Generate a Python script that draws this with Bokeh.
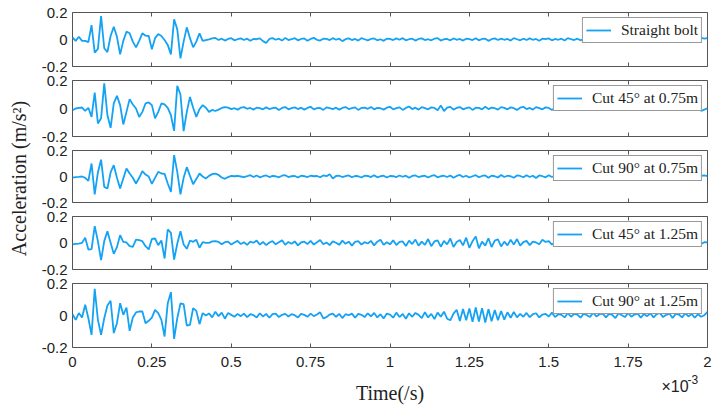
import math
from bokeh.plotting import figure
from bokeh.layouts import column, row
from bokeh.models import FixedTicker, CustomJSTickFormatter, LinearAxis, Range1d, Label
from bokeh.embed import file_html
from bokeh.resources import INLINE

# sample grid (units of 1e-3 s), 0.01 ms spacing
time_ms = [round(0.01 * i, 2) for i in range(201)]

straight_bolt = [
    0.016, -0.010, 0.020, -0.010, -0.010, -0.020, 0.107, -0.097, -0.070, 0.174,
    -0.065, -0.093, 0.026, 0.095, 0.020, -0.110, -0.010, 0.058, 0.046, -0.016,
    -0.058, -0.010, 0.046, 0.028, 0.026, -0.073, 0.010, 0.040, 0.026, -0.004,
    -0.040, -0.110, 0.150, 0.075, -0.140, -0.016, 0.090, 0.010, -0.058, -0.016,
    0.046, -0.010, -0.004, 0.001,
    0.008, 0.012, -0.004, 0.006, -0.008, 0.004, 0.010, -0.006, 0.002, 0.008,
    -0.004, 0.006, -0.010, 0.004, 0.002, 0.008, -0.012, -0.026, 0.004, 0.010,
    -0.002, 0.006, -0.008, 0.012, -0.004, 0.002, 0.010, -0.006, 0.004, 0.008,
    -0.010, 0.004, 0.012, -0.002, -0.008, 0.006, 0.004, -0.004, 0.010, -0.002,
    0.006, -0.012, 0.002, 0.008, -0.004, 0.004, -0.008, 0.010, 0.002, -0.006,
    0.004, 0.008, -0.006, 0.002, -0.010, 0.006, 0.004, -0.004, 0.008, -0.002,
    0.010, -0.006, 0.002, 0.006, -0.008, 0.004, 0.008, -0.004, 0.002, -0.006,
    0.006, 0.010, -0.008, 0.002, 0.004, -0.006, 0.008, -0.002, 0.004, -0.008,
    0.006, 0.002, -0.004, 0.010, -0.006, 0.004, 0.006, -0.010, 0.002, 0.008,
    -0.004, 0.006, -0.002, 0.004, -0.008, 0.010, 0.002, -0.006, 0.006, -0.004,
    0.008, -0.002, 0.004, -0.010, 0.006, 0.002, 0.008, -0.006, 0.004, -0.002,
    0.006, -0.008, 0.010, 0.002, -0.004, 0.006, -0.006, 0.004, 0.008, -0.010,
    0.004, 0.006, -0.004, 0.002, 0.010, -0.006, 0.004, -0.002, 0.008, -0.008,
    0.006, 0.002, -0.006, 0.010, -0.004, 0.004, 0.006, -0.008, 0.002, 0.008,
    -0.004, 0.006, -0.010, 0.004, 0.008, -0.002, 0.006, -0.006, 0.004, 0.010,
    -0.004, 0.002, 0.008, 0.014, 0.012, 0.006, 0.010,
]

cut45_075 = [
    -0.012, 0.000, 0.005, 0.007, -0.017, 0.005, -0.060, 0.114, -0.107, -0.070,
    0.180, -0.048, -0.138, 0.036, 0.090, 0.024, -0.114, -0.024, 0.067, 0.029,
    0.000, -0.060, -0.024, 0.036, 0.043, 0.024, -0.070, -0.024, 0.036, 0.029,
    0.005, -0.048, -0.160, 0.162, 0.100, -0.162, -0.024, 0.083, 0.005, -0.060,
    -0.005, 0.024, 0.005, -0.024,
    -0.010, -0.018, -0.008, 0.004, 0.010, 0.006, -0.004, 0.002, -0.008, 0.006,
    0.010, -0.002, 0.004, -0.008, 0.006, 0.002, -0.006, 0.008, -0.004, 0.002,
    0.006, -0.010, 0.004, 0.010, -0.006, 0.002, 0.008, -0.004, 0.006, -0.008,
    0.004, 0.012, -0.006, 0.002, 0.004, -0.010, 0.008, 0.002, -0.004, 0.006,
    -0.008, 0.004, 0.010, -0.004, 0.002, 0.008, -0.010, 0.004, 0.006, -0.002,
    0.010, -0.006, 0.004, 0.002, -0.008, 0.006, 0.012, -0.006, 0.002, 0.008,
    -0.010, 0.004, 0.014, -0.004, 0.006, -0.008, 0.010, 0.002, -0.006, 0.008,
    0.004, -0.012, 0.022, -0.018, 0.006, 0.012, -0.008, 0.004, 0.010, -0.006,
    0.002, 0.008, -0.010, 0.006, 0.004, -0.006, 0.012, -0.004, 0.006, 0.002,
    -0.008, 0.010, 0.004, -0.006, 0.008, 0.002, -0.010, 0.006, 0.012, -0.004,
    0.004, -0.008, 0.010, 0.002, -0.006, 0.008, 0.004, -0.010, 0.006, 0.002,
    0.012, -0.006, 0.004, 0.008, -0.008, 0.006, 0.002, -0.006, 0.010, 0.004,
    -0.008, 0.012, 0.002, -0.006, 0.008, 0.004, -0.012, 0.010, 0.002, -0.004,
    0.008, -0.010, 0.014, -0.004, 0.006, 0.002, -0.012, 0.010, 0.004, -0.008,
    0.012, -0.006, 0.016, -0.010, 0.004, 0.010, -0.014, 0.008, 0.002, 0.012,
    -0.012, 0.006, 0.028, 0.040, -0.018, -0.008, 0.002,
]

cut90_075 = [
    -0.008, -0.005, -0.003, 0.000, -0.010, -0.033, 0.100, -0.138, 0.031, 0.130,
    -0.080, -0.092, 0.031, 0.087, -0.010, -0.092, -0.015, 0.062, 0.023, -0.010,
    -0.054, -0.010, 0.041, 0.015, 0.000, -0.056, -0.010, 0.036, 0.023, 0.020,
    -0.054, -0.118, 0.164, 0.036, -0.138, -0.010, 0.072, 0.005, -0.059, -0.020,
    0.023, 0.000, -0.015, 0.005,
    0.018, 0.022, 0.012, -0.008, -0.018, -0.004, 0.004, 0.002, 0.004, 0.000,
    -0.004, 0.002, 0.010, -0.004, 0.008, -0.006, 0.002, 0.008, -0.004, 0.004,
    0.002, -0.006, 0.006, 0.010, -0.004, 0.002, 0.004, -0.008, 0.006, 0.002,
    -0.004, 0.006, 0.002, 0.004, -0.006, 0.008, 0.002, 0.018, -0.016, 0.004,
    0.006, -0.004, 0.002, 0.008, -0.006, 0.004, 0.002, -0.008, 0.006, 0.004,
    -0.004, 0.010, -0.006, 0.002, 0.006, -0.008, 0.004, 0.002, -0.004, 0.008,
    -0.002, 0.006, -0.010, 0.004, 0.008, -0.004, 0.002, 0.006, -0.008, 0.004,
    0.010, -0.006, 0.002, 0.006, -0.004, 0.008, -0.010, 0.004, 0.012, -0.004,
    0.006, -0.008, 0.002, 0.010, -0.006, 0.004, 0.008, -0.010, 0.006, 0.002,
    -0.008, 0.012, -0.004, 0.006, 0.002, -0.010, 0.008, 0.004, -0.006, 0.010,
    -0.004, 0.006, -0.012, 0.008, 0.002, -0.006, 0.010, -0.004, 0.006, -0.010,
    0.004, 0.012, -0.006, 0.002, 0.008, -0.010, 0.006, -0.004, 0.010, -0.012,
    0.004, 0.008, -0.008, 0.012, -0.004, 0.006, -0.010, 0.004, 0.010, -0.006,
    0.008, -0.012, 0.006, 0.002, -0.008, 0.010, -0.004, 0.006, -0.010, 0.012,
    -0.004, 0.008, -0.010, 0.006, 0.002, -0.008, 0.012, -0.006, 0.004, 0.008,
    -0.008, 0.006, 0.010, -0.006, 0.004, 0.008, 0.002,
]

cut45_125 = [
    -0.011, -0.006, -0.004, 0.001, 0.039, -0.049, -0.047, 0.127, 0.014, -0.130,
    0.014, 0.089, 0.001, -0.082, -0.031, 0.059, 0.009, 0.004, -0.024, -0.029,
    0.026, 0.021, 0.014, -0.024, -0.049, 0.031, 0.034, -0.016, 0.019, -0.117,
    0.102, 0.077, -0.125, -0.006, 0.089, -0.011, -0.044, 0.019, 0.009, 0.024,
    -0.036, 0.006, 0.001, 0.001,
    0.012, 0.014, 0.008, -0.010, 0.006, 0.010, -0.012, 0.004, 0.016, -0.008,
    0.006, -0.014, 0.010, 0.002, 0.018, -0.012, 0.008, -0.016, 0.004, 0.014,
    -0.010, 0.006, 0.020, -0.014, 0.008, -0.006, 0.012, -0.018, 0.004, 0.010,
    -0.008, 0.016, -0.012, 0.006, 0.022, -0.010, 0.004, -0.016, 0.012, 0.002,
    -0.014, 0.018, -0.006, 0.010, -0.020, 0.008, 0.014, -0.012, 0.006, -0.004,
    0.016, -0.018, 0.010, 0.024, -0.014, 0.006, -0.010, 0.020, -0.016, 0.008,
    0.012, -0.022, 0.018, -0.008, 0.026, -0.020, 0.010, -0.014, 0.030, -0.024,
    0.012, 0.020, -0.028, 0.016, -0.010, 0.034, -0.030, 0.008, 0.022, -0.018,
    0.040, -0.036, 0.014, 0.050, -0.040, 0.010, -0.020, 0.036, -0.030, 0.018,
    0.028, -0.026, 0.010, -0.018, 0.024, -0.012, 0.030, -0.020, 0.006, 0.016,
    -0.016, 0.010, 0.004, -0.010, 0.024, 0.008, 0.014, -0.012, 0.006, 0.010,
    -0.014, 0.012, 0.018, -0.010, 0.004, 0.016, -0.012, 0.008, -0.006, 0.014,
    0.010, -0.016, 0.012, 0.004, -0.008, 0.016, -0.012, 0.006, 0.010, -0.010,
    0.014, 0.004, -0.014, 0.010, 0.018, -0.010, 0.006, -0.016, 0.012, 0.004,
    -0.008, 0.016, -0.012, 0.010, 0.004, -0.014, 0.018, -0.006, 0.010, -0.016,
    0.012, 0.006, -0.010, 0.014, -0.008, 0.006, 0.004,
]

cut90_125 = [
    0.008, -0.027, 0.015, -0.013, 0.067, -0.017, -0.121, 0.167, -0.027, -0.121,
    -0.017, 0.062, 0.092, -0.110, -0.048, 0.077, 0.004, 0.050, -0.096, -0.013,
    0.019, 0.025, 0.025, -0.048, -0.033, -0.013, 0.035, 0.015, -0.027, -0.131,
    0.077, 0.146, -0.146, -0.017, 0.075, 0.071, -0.063, -0.058, 0.046, 0.029,
    -0.054, 0.015, 0.000, 0.013,
    -0.012, 0.024, -0.004, 0.018, -0.020, 0.016, 0.004, -0.008, 0.010, -0.004,
    0.012, -0.010, 0.008, 0.002, -0.012, 0.014, -0.006, 0.010, -0.014, 0.008,
    0.012, -0.010, 0.004, 0.010, -0.006, 0.008, 0.002, -0.012, 0.010, 0.004,
    -0.008, 0.012, -0.004, 0.006, 0.020, -0.018, -0.010, 0.006, 0.012, -0.008,
    0.010, -0.016, 0.008, 0.002, 0.012, -0.014, 0.010, 0.004, -0.010, 0.014,
    -0.006, 0.016, -0.012, 0.008, -0.018, 0.012, 0.006, -0.014, 0.018, -0.010,
    0.010, -0.020, 0.014, -0.008, 0.016, 0.004, -0.016, 0.020, -0.012, 0.010,
    -0.022, 0.018, -0.008, 0.024, -0.020, -0.030, 0.012, 0.036, -0.034, 0.040,
    -0.030, 0.044, -0.040, 0.050, -0.038, 0.046, -0.044, 0.040, -0.036, 0.034,
    -0.030, 0.028, -0.026, 0.020, -0.014, 0.022, -0.012, 0.010, -0.008, 0.016,
    -0.010, 0.008, 0.014, -0.012, 0.006, 0.010, -0.006, 0.018, -0.010, 0.008,
    0.004, -0.012, 0.016, -0.008, 0.010, 0.006, -0.014, 0.012, 0.002, -0.010,
    0.018, -0.006, 0.008, 0.012, -0.012, 0.010, 0.004, -0.016, 0.014, 0.002,
    -0.010, 0.016, -0.008, 0.006, 0.012, -0.014, 0.010, -0.004, 0.014, -0.012,
    0.008, 0.016, -0.010, 0.004, 0.012, -0.016, 0.010, 0.006, -0.012, 0.014,
    -0.006, 0.010, -0.014, 0.008, -0.008, 0.002, 0.022,
]

series = [straight_bolt, cut45_075, cut90_075, cut45_125, cut90_125]
series_labels = ["Straight bolt", "Cut 45° at 0.75m", "Cut 90° at 0.75m",
                 "Cut 45° at 1.25m", "Cut 90° at 1.25m"]
x_ticks = [0, 0.25, 0.5, 0.75, 1, 1.25, 1.5, 1.75, 2]
y_ticks = [-0.2, 0, 0.2]
y_title = "Acceleration (m/s²)"
x_title = "Time(/s)"
x_scale_base = "×10"
x_scale_exp = "-3"

# (top border, frame height, bottom border) per panel
panel_sizes = [(12, 54, 7), (7, 56, 7), (7, 52, 7), (7, 53, 7), (7, 64, 26)]
STRIP_H = 33   # bottom strip holding the x title and the exponent note

LINE_COLOR = "#14a2f4"
AXIS_COLOR = "#555555"
TEXT_COLOR = "#222222"
SANS = "Liberation Sans"
SERIF = "Liberation Serif"
LEFT_W = 34          # width of the strip that holds the y title
PANEL_W = 717 - LEFT_W
BORDER_L = 72 - LEFT_W
BORDER_R = 10

num_fmt = CustomJSTickFormatter(code="return tick.toString()")
blank_fmt = CustomJSTickFormatter(code="return ''")

total_h = sum(t + f + b for t, f, b in panel_sizes) + STRIP_H

# left strip: shared y-axis title (centred on the middle panel)
lab_fig = figure(width=LEFT_W, height=total_h, x_range=Range1d(0, LEFT_W),
                 y_range=Range1d(0, total_h), output_backend="svg",
                 toolbar_location=None, min_border=0,
                 x_axis_location=None, y_axis_location=None)
lab_fig.outline_line_color = None
lab_fig.xgrid.visible = False
lab_fig.ygrid.visible = False
lab_fig.add_layout(Label(x=18, y=total_h - 178, text=y_title, angle=math.pi / 2,
                         text_font=SERIF, text_font_size="20px",
                         text_color=TEXT_COLOR, text_align="center",
                         text_baseline="middle"))

figs = []
for k, (ys, lab, (tb, fh, bb)) in enumerate(zip(series, series_labels, panel_sizes)):
    last = (k == len(series) - 1)
    p = figure(width=PANEL_W, height=tb + fh + bb,
               x_range=Range1d(0, 2), y_range=Range1d(-0.2, 0.2),
               output_backend="svg", toolbar_location=None,
               min_border_left=BORDER_L, min_border_right=BORDER_R,
               min_border_top=tb, min_border_bottom=bb)
    p.background_fill_color = "white"
    p.border_fill_color = "white"
    p.outline_line_color = AXIS_COLOR
    p.outline_line_width = 1
    p.xgrid.visible = False
    p.ygrid.visible = False

    p.line(time_ms, ys, line_color=LINE_COLOR, line_width=1.8, legend_label=lab)

    xa = p.xaxis[0]
    xa.ticker = FixedTicker(ticks=x_ticks)
    xa.axis_line_color = None
    xa.major_tick_in = 4
    xa.major_tick_out = 0
    xa.minor_tick_line_color = None
    xa.major_tick_line_color = AXIS_COLOR
    if last:
        xa.formatter = num_fmt
        xa.major_label_text_font = SANS
        xa.major_label_text_font_size = "15px"
        xa.major_label_text_color = TEXT_COLOR
        xa.major_label_standoff = 9
    else:
        xa.formatter = blank_fmt
        xa.major_label_standoff = 0

    ta = LinearAxis(ticker=FixedTicker(ticks=x_ticks), formatter=blank_fmt,
                    axis_line_color=None, major_tick_in=4, major_tick_out=0,
                    minor_tick_line_color=None, major_tick_line_color=AXIS_COLOR,
                    major_label_standoff=0)
    p.add_layout(ta, "above")

    ya = p.yaxis[0]
    ya.ticker = FixedTicker(ticks=y_ticks)
    ya.formatter = num_fmt
    ya.axis_line_color = None
    ya.major_tick_in = 0
    ya.major_tick_out = 0
    ya.minor_tick_line_color = None
    ya.major_label_text_font = SANS
    ya.major_label_text_font_size = "15px"
    ya.major_label_text_color = TEXT_COLOR
    ya.major_label_standoff = 5

    lg = p.legend[0]
    lg.location = "top_right"
    lg.margin = 5
    lg.padding = 3
    lg.spacing = 0
    lg.glyph_width = 25
    lg.glyph_height = 14
    lg.label_height = 14
    lg.label_standoff = 10
    lg.label_text_font = SERIF
    lg.label_text_font_size = "15.5px"
    lg.label_text_color = TEXT_COLOR
    lg.border_line_color = "#333333"
    lg.border_line_width = 1
    lg.background_fill_color = "white"
    lg.background_fill_alpha = 1.0
    figs.append(p)

# bottom strip: x title and the "x10^-3" exponent note, on the same x scale
strip = figure(width=PANEL_W, height=STRIP_H, x_range=Range1d(0, 2),
               y_range=Range1d(0, STRIP_H), output_backend="svg",
               toolbar_location=None, min_border_left=BORDER_L,
               min_border_right=BORDER_R, min_border_top=0, min_border_bottom=0,
               x_axis_location=None, y_axis_location=None)
strip.outline_line_color = None
strip.xgrid.visible = False
strip.ygrid.visible = False
strip.add_layout(Label(x=1.0, y=STRIP_H - 19, text=x_title, text_font=SERIF,
                       text_font_size="20px", text_color=TEXT_COLOR,
                       text_align="center", text_baseline="middle"))
strip.add_layout(Label(x=1.855, y=STRIP_H - 13, text=x_scale_base,
                       text_font=SANS, text_font_size="16px", text_color=TEXT_COLOR,
                       text_align="left", text_baseline="middle"))
strip.add_layout(Label(x=1.937, y=STRIP_H - 6, text=x_scale_exp,
                       text_font=SANS, text_font_size="12px", text_color=TEXT_COLOR,
                       text_align="left", text_baseline="middle"))

layout = row(lab_fig, column(*figs, strip, spacing=0), spacing=0)
open("out.html", "w").write(file_html(layout, INLINE))
